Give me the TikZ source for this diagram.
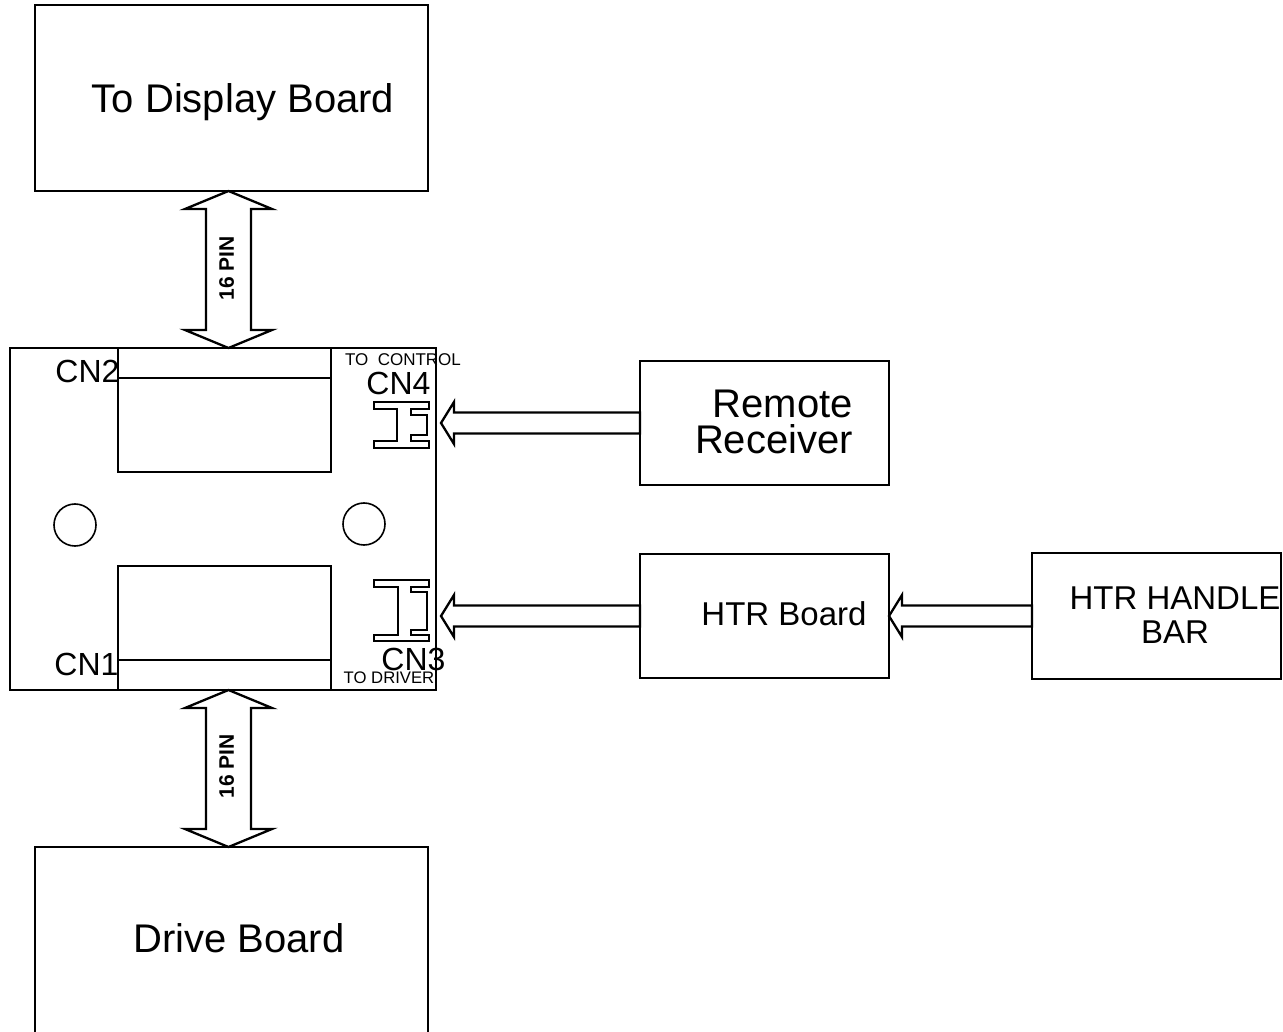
\documentclass[tikz,border=0pt]{standalone}
\usepackage{fontspec}
\setmainfont{Liberation Sans}
\usetikzlibrary{positioning,calc}

\tikzset{
  board/.style={draw,line width=2.3pt,inner sep=0pt,outer sep=0pt},
  fatline/.style={line width=2.3pt,line join=miter},
  lbl/.style={inner sep=0pt,text depth=0pt,font=\fontsize{40}{36}\selectfont},
  sublbl/.style={inner sep=0pt,text depth=0pt,font=\fontsize{33}{34}\selectfont},
  cnlbl/.style={inner sep=0pt,text depth=0pt,font=\fontsize{32}{34}\selectfont},
  tinylbl/.style={inner sep=0pt,text depth=0pt,font=\fontsize{17}{18}\selectfont},
  buslbl/.style={inner sep=0pt,text depth=0pt,rotate=90,font=\fontsize{21}{22}\selectfont\bfseries},
}

% hollow arrow pointing left: #1 tip, #2 tail
\newcommand{\padarrow}[2]{%
  \draw[fatline] (#1) -- ++(13,-21) -- ++(0,10.5) -- ($(#2)+(0,-10.5)$)
    -- ($(#2)+(0,10.5)$) -- ($(#1)+(13,10.5)$) -- ++(0,10.5) -- cycle;}
% hollow double arrow, vertical: #1 top tip, #2 bottom tip
\newcommand{\busarrow}[2]{%
  \draw[fatline] (#1) -- ++(43.5,18) -- ++(-21,0) -- ($(#2)+(22.5,-18)$) -- ++(21,0)
    -- (#2) -- ++(-43.5,-18) -- ++(21,0) -- ($(#1)+(-22.5,18)$) -- ++(-21,0) -- cycle;}

\begin{document}
\begin{tikzpicture}[x=1pt,y=-1pt]
\useasboundingbox (0,0) rectangle (1283,1032);
% ---- boards ----
\node[board,minimum width=393pt,minimum height=186pt] (disp) at (231.5,98) {};
\node[board,minimum width=426pt,minimum height=342pt] (main) at (223,519) {};
\node[board,minimum width=393pt,minimum height=186pt] (drive) at (231.5,940) {};
\node[board,minimum width=249pt,minimum height=124pt] (rr) at (764.5,423) {};
\node[board,minimum width=249pt,minimum height=124pt] (htr) at (764.5,616) {};
\node[board,minimum width=249pt,minimum height=126pt] (bar) at (1156.5,616) {};
\node[lbl] (displbl) at ($(disp)+(11.5,0)$) {To Display Board};
\node[lbl] (drivelbl) at ($(drive)+(7.5,-2)$) {Drive Board};
\node[lbl,align=right] (rrlbl) at ($(rr)+(9.5,-1)$) {Remote\\Receiver};
\node[sublbl] (htrlbl) at ($(htr)+(19.5,-2)$) {HTR Board};
\node[sublbl,align=center] (barlbl) at ($(bar)+(18.5,-1)$) {HTR HANDLE\\BAR};
% ---- connectors on the main board ----
\node[board,minimum width=213pt,minimum height=124pt] (cn2box) at (224.5,410) {};
\draw[line width=2.3pt] ($(cn2box.north west)+(0,30)$) -- ($(cn2box.north east)+(0,30)$);
\node[board,minimum width=213pt,minimum height=124pt] (cn1box) at (224.5,628) {};
\draw[line width=2.3pt] ($(cn1box.south west)+(0,-30)$) -- ($(cn1box.south east)+(0,-30)$);
\node[draw,circle,line width=1.6pt,minimum size=42pt,inner sep=0pt] (holeL) at (75,525) {};
\node[draw,circle,line width=1.6pt,minimum size=42pt,inner sep=0pt] (holeR) at (364,524) {};
\draw[fatline] (374,402) -- (429,402) -- (429,409) -- (411,409) -- (411,415) -- (427,415)
  -- (427,435) -- (411,435) -- (411,441) -- (429,441) -- (429,448) -- (374,448)
  -- (374,441) -- (397,441) -- (397,409) -- (374,409) -- cycle;
\draw[fatline] (374,580) -- (429,580) -- (429,587) -- (411,587) -- (411,592) -- (427,592)
  -- (427,630) -- (411,630) -- (411,635) -- (429,635) -- (429,641) -- (374,641)
  -- (374,635) -- (398,635) -- (398,587) -- (374,587) -- cycle;
\node[cnlbl] (cn2) at (87.5,371) {CN2};
\node[cnlbl] (cn1) at (86.5,664.5) {CN1};
\node[cnlbl] (cn4) at (398.5,383) {CN4};
\node[cnlbl] (cn3) at (413.5,659) {CN3};
\node[tinylbl] (toctrl) at (403,359.5) {TO\ \ CONTROL};
\node[tinylbl,font=\fontsize{16.7}{18}\selectfont] (todrv) at (389,677.5) {TO DRIVER};
% ---- arrows ----
\coordinate (busA) at ($(disp.south)+(-3,0)$);
\coordinate (busB) at ($(drive.north)+(-3,0)$);
\busarrow{busA}{busA |- main.north}
\node[buslbl] (pinA) at ($(busA)!0.5!(busA |- main.north)+(-2,-1)$) {16 PIN};
\busarrow{busB |- main.south}{busB}
\node[buslbl] (pinB) at ($(busB |- main.south)!0.5!(busB)+(-2,-2)$) {16 PIN};
\coordinate (cn4in) at (441,423);
\coordinate (cn3in) at (441,616);
\padarrow{cn4in}{rr.west}
\padarrow{cn3in}{htr.west}
\padarrow{htr.east}{bar.west}
\end{tikzpicture}
\end{document}
